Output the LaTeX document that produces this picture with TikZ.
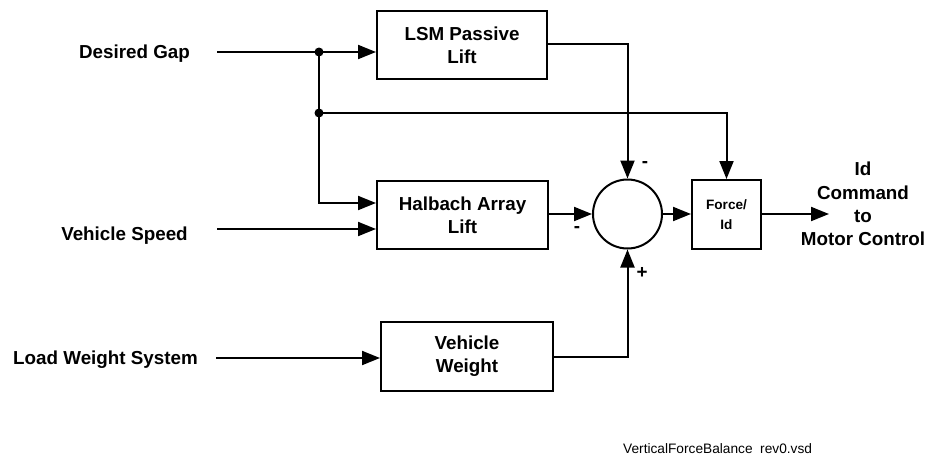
\documentclass[tikz,border=0pt]{standalone}
\usepackage{fontspec}
\setmainfont{Liberation Sans}
\usetikzlibrary{arrows.meta,calc}
\tikzset{
  blk/.style={draw, line width=2pt, inner sep=0pt, align=center,
    font=\fontsize{18.8}{23.3}\selectfont\bfseries},
  lbl/.style={inner sep=0pt, font=\fontsize{18.8}{23.3}\selectfont\bfseries},
  arr/.style={line width=2pt, -{Triangle[length=18pt,width=14pt]}},
  ln/.style={line width=2pt},
  jdot/.style={circle, fill=black, inner sep=0pt, minimum size=9pt}
}
\begin{document}
\begin{tikzpicture}[x=1pt,y=-1pt]
\useasboundingbox (0,0) rectangle (927,456);
% blocks
\node[blk, minimum width=170pt, minimum height=68pt] (lsm) at (462,45) {LSM Passive\\Lift};
\node[blk, minimum width=171pt, minimum height=68pt] (hal) at (462.5,215) {Halbach Array\\Lift};
\node[blk, minimum width=172pt, minimum height=69pt] (vw) at (467,356.5) {Vehicle\\Weight};
\node[blk, minimum width=69pt, minimum height=69pt, font=\fontsize{13.6}{20}\selectfont\bfseries] (fid) at (726.5,214.5) {Force/\\Id};
\node[draw, circle, line width=2pt, minimum size=69pt, inner sep=0pt] (sum) at (627.5,214) {};
% input labels
\node[lbl, anchor=base] (tdg) at (134.5,58.5) {Desired Gap};
\node[lbl, anchor=base] (tvs) at (124.5,240.5) {Vehicle Speed};
\node[lbl, anchor=base] (tlw) at (105.5,364.5) {Load Weight System};
\node[lbl, align=center] (tout) at (863,204) {Id\\Command\\to\\Motor Control};
% coordinates
\coordinate (sdg) at (217,52);
\coordinate (svs) at (217,229);
\coordinate (slw) at (216,358);
\node[jdot] (d1) at (319,52) {};
\node[jdot] (d2) at (319,113) {};
\coordinate (eout) at (829,214);
% connectors
\draw[arr] (sdg) -- (lsm.west |- sdg);
\draw[ln] (d1.center) -- (d2.center);
\draw[arr] (d2.center) |- ($(hal.west)+(0,-12)$);
\draw[arr] (svs) -- (hal.west |- svs);
\draw[arr] (d2.center) -| (fid.north);
\draw[arr] ($(lsm.east)+(0,-1)$) -| (sum.north);
\draw[arr] (hal.east |- sum.west) -- (sum.west);
\draw[arr] (sum.east) -- (fid.west |- sum.east);
\draw[arr] (fid.east |- sum.east) -- (eout);
\draw[arr] (slw) -- (vw.west |- slw);
\draw[arr] (vw.east) -| (sum.south);
% signs
\node[lbl] (m1) at (645,164) {-};
\node[lbl] (m2) at (577,229) {-};
\node[lbl] (p1) at (642,273) {+};
% footer
\node[inner sep=0pt, anchor=west, font=\fontsize{13.7}{16}\selectfont] (foot) at (623,449) {VerticalForceBalance\ \ rev0.vsd};
\end{tikzpicture}
\end{document}
